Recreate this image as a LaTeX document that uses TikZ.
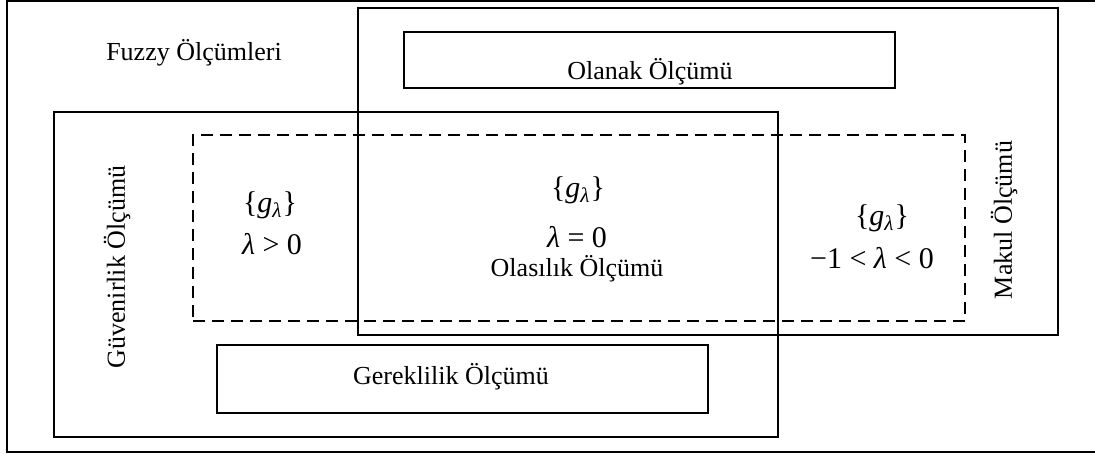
\documentclass[tikz,border=0pt]{standalone}
\usepackage{fontspec}
\setmainfont{Liberation Serif}
\usepackage{tikz}
\usetikzlibrary{
    positioning,
    calc
}

\begin{document}
\begin{tikzpicture}[
    x=0.5pt, y=-0.5pt,
    every node/.style={font=\fontsize{13}{15}\selectfont},
    box/.style={rectangle, draw=black, line width=1pt, inner sep=0pt},
    dashbox/.style={rectangle, draw=black, line width=1pt, inner sep=0pt, dash pattern=on 6pt off 3.5pt},
    label/.style={inner sep=0pt, align=center},
    mathlabel/.style={inner sep=0pt, align=center, font=\fontsize{15}{19}\selectfont}
]

\useasboundingbox (0,0) rectangle (1095,455);

% outer frame, open on the right
\draw[line width=1pt] (1095,1) -- (7,1) -- (7,452) -- (1095,452);

\node[box, minimum width=350pt, minimum height=163.5pt] (makul) at (708,171.5) {};
\node[box, fill=white, minimum width=245.5pt, minimum height=28pt] (olanak) at (649.5,60) {};
\node[box, minimum width=362pt, minimum height=162.75pt] (guven) at (416,274.25) {};
\node[dashbox, minimum width=386pt, minimum height=93pt] (lambda) at (579,228) {};
\node[box, minimum width=245.5pt, minimum height=34pt] (gerek) at (462.5,379) {};

\node[label] (fuzzy) at (194,53) {Fuzzy Ölçümleri};
\node[label] (olanaktext) at (650,72) {Olanak Ölçümü};
\node[label] (gerektext) at (451,377) {Gereklilik Ölçümü};
\node[label, rotate=90] (guventext) at (117,267) {Güvenirlik Ölçümü};
\node[label, rotate=90] (makultext) at (1004,220) {Makul Ölçümü};

\node[mathlabel] (gpos) at (270,205) {\{\textit{g}\textsubscript{\textit{λ}}\}};
\node[mathlabel] (lpos) at (272,244) {\textit{λ} > 0};
\node[mathlabel] (gzero) at (578,190) {\{\textit{g}\textsubscript{\textit{λ}}\}};
\node[mathlabel] (lzero) at (577,237) {\textit{λ} = 0};
\node[label] (olasilik) at (577,269) {Olasılık Ölçümü};
\node[mathlabel] (gneg) at (882,218) {\{\textit{g}\textsubscript{\textit{λ}}\}};
\node[mathlabel] (lneg) at (872,258) {−1 < \textit{λ} < 0};

\end{tikzpicture}
\end{document}
